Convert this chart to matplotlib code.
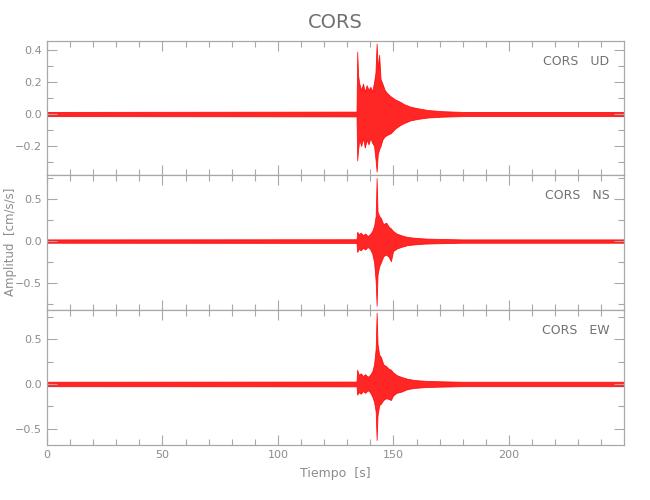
import matplotlib
matplotlib.use('Agg')
import matplotlib.pyplot as plt
from matplotlib.ticker import MultipleLocator

# station / components
station = 'CORS'
components = ['UD', 'NS', 'EW']
t_end = 249.8

# envelope of each trace: time [s], upper, lower [cm/s/s]
t_ud = [0, 134.0, 134.3, 134.7, 135.2, 136.0, 136.8, 137.6, 138.4, 139.2, 140.0, 140.8,
        141.6, 142.2, 142.7, 143.2, 143.8, 144.4, 145.2, 146.2, 147.3, 148.8, 150.8,
        152.8, 154.8, 157.3, 160.8, 164.8, 170.8, 180.0, t_end]
up_ud = [0.013, 0.015, 0.39, 0.24, 0.19, 0.15, 0.19, 0.14, 0.18, 0.15, 0.17, 0.14,
         0.20, 0.26, 0.44, 0.28, 0.37, 0.22, 0.19, 0.15, 0.13, 0.11, 0.09,
         0.077, 0.06, 0.046, 0.035, 0.025, 0.018, 0.013, 0.013]
lo_ud = [-0.013, -0.015, -0.29, -0.22, -0.16, -0.20, -0.15, -0.21, -0.16, -0.19, -0.15, -0.18,
         -0.20, -0.28, -0.36, -0.25, -0.22, -0.20, -0.16, -0.14, -0.13, -0.12, -0.09,
         -0.07, -0.055, -0.04, -0.03, -0.022, -0.017, -0.013, -0.013]

t_ns = [0, 134.0, 134.3, 135.0, 135.8, 136.8, 137.8, 138.8, 139.8, 140.8, 141.6, 142.3,
        142.7, 143.1, 143.8, 144.6, 145.6, 146.8, 148.0, 148.9, 149.8, 151.3, 153.3,
        155.8, 158.8, 163.8, 170.8, 180.0, t_end]
up_ns = [0.02, 0.022, 0.11, 0.08, 0.10, 0.07, 0.09, 0.06, 0.08, 0.12, 0.18, 0.30,
         0.75, 0.35, 0.30, 0.27, 0.20, 0.22, 0.17, 0.15, 0.12, 0.09, 0.07,
         0.05, 0.04, 0.03, 0.025, 0.02, 0.02]
lo_ns = [-0.02, -0.022, -0.13, -0.09, -0.11, -0.08, -0.10, -0.07, -0.09, -0.15, -0.25, -0.48,
         -0.77, -0.40, -0.30, -0.25, -0.18, -0.16, -0.19, -0.24, -0.12, -0.09, -0.07,
         -0.05, -0.04, -0.03, -0.025, -0.02, -0.02]

t_ew = [0, 134.0, 134.3, 135.0, 135.8, 136.8, 137.8, 138.8, 139.8, 140.8, 141.6, 142.3,
        142.7, 143.1, 143.8, 144.6, 145.6, 146.8, 148.0, 148.9, 149.8, 151.3, 153.3,
        155.8, 158.8, 163.8, 170.8, 180.0, t_end]
up_ew = [0.025, 0.027, 0.16, 0.10, 0.12, 0.09, 0.11, 0.08, 0.10, 0.14, 0.22, 0.40,
         0.80, 0.45, 0.33, 0.30, 0.22, 0.20, 0.17, 0.16, 0.13, 0.10, 0.08,
         0.06, 0.045, 0.035, 0.03, 0.025, 0.025]
lo_ew = [-0.025, -0.027, -0.12, -0.09, -0.11, -0.08, -0.10, -0.07, -0.09, -0.14, -0.20, -0.31,
         -0.63, -0.35, -0.24, -0.22, -0.18, -0.16, -0.17, -0.18, -0.13, -0.10, -0.087,
         -0.06, -0.045, -0.035, -0.03, -0.025, -0.025]

traces = [(t_ud, up_ud, lo_ud), (t_ns, up_ns, lo_ns), (t_ew, up_ew, lo_ew)]
ylims = [(-0.381, 0.456), (-0.82, 0.786), (-0.685, 0.83)]
ymajor = [0.2, 0.5, 0.5]
yminor = [0.1, 0.25, 0.25]

grey = '#8c8c8c'
axgrey = '#a8a8a8'
plt.rcParams['font.family'] = ['DejaVu Sans']

fig = plt.figure(figsize=(6.5, 5.0), dpi=100)
left, width = 47 / 650, (624 - 47) / 650
tops = [41, 175, 310]
bots = [175, 310, 445]

for i, comp in enumerate(components):
    b = 1 - bots[i] / 500
    h = (bots[i] - tops[i]) / 500
    ax = fig.add_axes([left, b, width, h])
    t, up, lo = traces[i]
    ax.fill_between(t, lo, up, color='red', alpha=0.85, lw=0.6, edgecolor='red')
    ax.set_xlim(0, t_end)
    ax.set_ylim(*ylims[i])
    ax.xaxis.set_major_locator(MultipleLocator(50))
    ax.xaxis.set_minor_locator(MultipleLocator(10))
    ax.yaxis.set_major_locator(MultipleLocator(ymajor[i]))
    ax.yaxis.set_minor_locator(MultipleLocator(yminor[i]))
    ax.tick_params(which='both', direction='in', top=True, right=True,
                   color=axgrey, labelcolor=grey, labelsize=8, width=0.8)
    ax.tick_params(which='major', length=7)
    ax.tick_params(which='minor', length=4)
    for s in ax.spines.values():
        s.set_color(axgrey)
        s.set_linewidth(0.9)
    if i < 2:
        ax.tick_params(labelbottom=False)
    else:
        ax.set_xlabel('Tiempo  [s]', color=grey, fontsize=9, labelpad=5)
    ax.text(0.975, 0.85, station + '   ' + comp, transform=ax.transAxes,
            ha='right', va='center', color='#707070', fontsize=9)

fig.text((47 + 624) / 2 / 650, 1 - 22 / 500, station, ha='center', va='center',
         color='#707070', fontsize=14)
fig.text(11 / 650, 1 - 242 / 500, 'Amplitud  [cm/s/s]', rotation=90,
         ha='center', va='center', color=grey, fontsize=8.5)

fig.savefig('out.png', dpi=100)
